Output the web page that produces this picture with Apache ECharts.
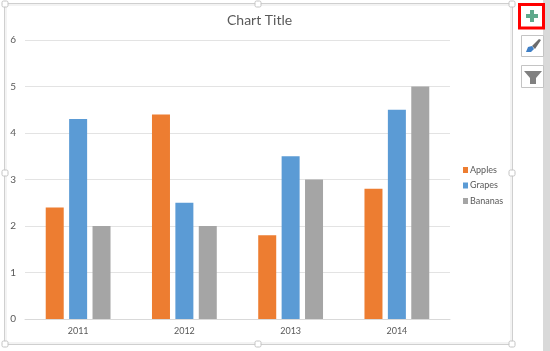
<!DOCTYPE html>
<html>
<head>
<meta charset="utf-8">
<style>
    html, body { margin: 0; padding: 0; background: #fff; }
    #chart { width: 550px; height: 351px; }
</style>
</head>
<body>
<div id="chart"></div>
<script src="https://cdn.jsdelivr.net/npm/echarts@6/dist/echarts.min.js"></script>
<script>
const years = ['2011', '2012', '2013', '2014']
const apples = [2.4, 4.4, 1.8, 2.8]
const grapes = [4.3, 2.5, 3.5, 4.5]
const bananas = [2, 2, 3, 5]
const seriesNames = ['Apples', 'Grapes', 'Bananas']
const seriesColors = ['#ed7d31', '#5b9bd5', '#a5a5a5']
const textFont = 'Lato, "Liberation Sans", sans-serif'

const myChart = echarts.init(document.querySelector('#chart'), null, { renderer: 'canvas' })

function bar(name, data, color) {
    return {
        name: name,
        type: 'bar',
        data: data,
        barWidth: 18,
        barGap: '30%',
        itemStyle: { color: color }
    }
}

// selection frame round the chart
function frameParts() {
    const parts = [
        { type: 'rect', shape: { x: 4.5, y: 3.5, width: 508, height: 341 }, style: { fill: 'none', stroke: '#cfcfcf', lineWidth: 1 } },
        { type: 'rect', shape: { x: 6, y: 5, width: 505, height: 338 }, style: { fill: 'none', stroke: '#f0f0f0', lineWidth: 1.5 } }
    ]
    const handles = [[5, 4], [258, 4], [512, 4], [5, 173], [512, 173], [5, 344], [258, 344], [512, 344]]
    handles.forEach(h => {
        parts.push({
            type: 'rect',
            shape: { x: h[0] - 3, y: h[1] - 3, width: 6, height: 6, r: 1.5 },
            style: { fill: '#fff', stroke: '#c4c4c4', lineWidth: 1 }
        })
    })
    return parts
}

// the three buttons on the right
function buttonParts() {
    return [
        { type: 'rect', shape: { x: 543, y: 0, width: 7, height: 351 }, style: { fill: '#d9d9d9' } },
        { type: 'rect', shape: { x: 519.5, y: 4.5, width: 24, height: 23.5 }, style: { fill: '#fff', stroke: '#ff0000', lineWidth: 3 } },
        { type: 'rect', shape: { x: 530, y: 10, width: 4, height: 12 }, style: { fill: '#5fa98c' } },
        { type: 'rect', shape: { x: 526, y: 14, width: 12, height: 4 }, style: { fill: '#5fa98c' } },
        { type: 'rect', shape: { x: 521.5, y: 35.5, width: 22, height: 21 }, style: { fill: '#fff', stroke: '#c4c4c4', lineWidth: 1 } },
        { type: 'polygon', shape: { points: [[532, 46], [539, 39], [541, 40], [535, 49]] }, style: { fill: '#6b6b6b' } },
        { type: 'polygon', shape: { points: [[526, 52], [528, 47], [532, 46], [534, 49], [531, 52]] }, style: { fill: '#3f7fc6' } },
        { type: 'rect', shape: { x: 521.5, y: 65.5, width: 22, height: 22 }, style: { fill: '#fff', stroke: '#c4c4c4', lineWidth: 1 } },
        { type: 'polygon', shape: { points: [[524, 71], [542, 71], [536, 78], [536, 84], [530, 84], [530, 78]] }, style: { fill: '#808080' } }
    ]
}

const option = {
    animation: false,
    backgroundColor: '#fff',
    title: {
        text: 'Chart Title',
        left: 222,
        top: 8,
        textStyle: { color: '#595959', fontSize: 14, fontWeight: 'normal', fontFamily: textFont }
    },
    grid: { left: 25, right: 100, top: 40, bottom: 32 },
    legend: {
        orient: 'vertical',
        left: 458,
        top: 160.5,
        itemWidth: 5,
        itemHeight: 6,
        itemGap: 6.5,
        icon: 'rect',
        data: seriesNames,
        textStyle: { color: '#595959', fontSize: 9, fontFamily: textFont, padding: [0, 0, 0, -3] }
    },
    xAxis: {
        type: 'category',
        data: years,
        axisLine: { lineStyle: { color: '#d9d9d9' } },
        axisTick: { show: false },
        axisLabel: { color: '#595959', fontSize: 9, margin: 8, fontFamily: textFont }
    },
    yAxis: {
        type: 'value',
        min: 0,
        max: 6,
        interval: 1,
        axisLine: { show: false },
        axisTick: { show: false },
        axisLabel: { color: '#595959', fontSize: 10, margin: 9, fontFamily: textFont },
        splitLine: { lineStyle: { color: '#e3e3e3' } }
    },
    series: [
        bar(seriesNames[0], apples, seriesColors[0]),
        bar(seriesNames[1], grapes, seriesColors[1]),
        bar(seriesNames[2], bananas, seriesColors[2])
    ],
    graphic: frameParts().concat(buttonParts()).map(p => Object.assign({ silent: true }, p))
}
myChart.setOption(option)
</script>
</body>
</html>
